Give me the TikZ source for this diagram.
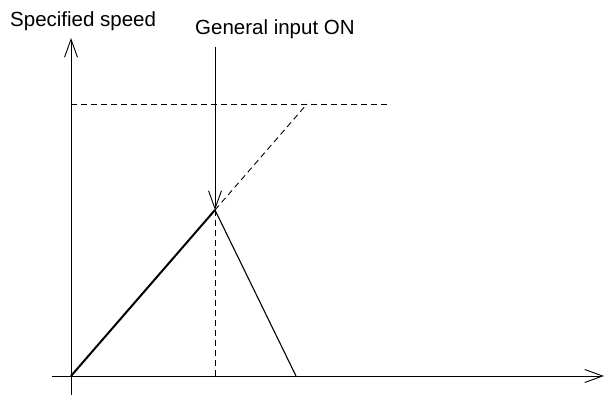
\documentclass[tikz,border=0pt]{standalone}
\usepackage{fontspec}
\setmainfont{Liberation Sans}
\usetikzlibrary{arrows.meta, positioning}

\begin{document}
\begin{tikzpicture}[
		x=1pt, y=-1pt,
		every node/.style={font=\fontsize{20.5}{24}\selectfont, inner sep=0pt},
		axis/.style={line width=0.9pt, -{Straight Barb[length=18pt, width=13pt, line width=0.9pt]}},
		ramp/.style={line width=2pt},
		guide/.style={line width=0.9pt, dash pattern=on 6pt off 4pt}
		]
		\useasboundingbox (0,0) rectangle (605,398);
		
		% Points
		\coordinate (origin) at (71,376);
		\coordinate (ytop) at (71,38);
		\coordinate (ybot) at (71,395);
		\coordinate (xleft) at (52,376);
		\coordinate (xright) at (604,376);
		\coordinate (peak) at (215,210);
		\coordinate (stop) at (296,376);
		\coordinate (target) at (307,104);
		\coordinate (limitL) at (71,104);
		\coordinate (limitR) at (387,104);
		\coordinate (foot) at (215,376);
		\coordinate (signal) at (215,47);
		
		% Labels
		\node[anchor=base west] (speed) at (10,27) {Specified speed};
		\node[anchor=base west] (input) at (195,35) {General input ON};
		
		% Axes
		\draw[axis] (ybot) -- (ytop);
		\draw[axis] (xleft) -- (xright);
		
		% Speed profile
		\draw[ramp] (origin) -- (peak);
		\draw[line width=1.1pt] (peak) -- (stop);
		\draw[guide] (peak) -- (target);
		\draw[guide] (limitL) -- (limitR);
		\draw[guide] (peak) -- (foot);
		
		% Input arrow
		\draw[axis] (signal) -- (peak);
		
	\end{tikzpicture}
\end{document}
